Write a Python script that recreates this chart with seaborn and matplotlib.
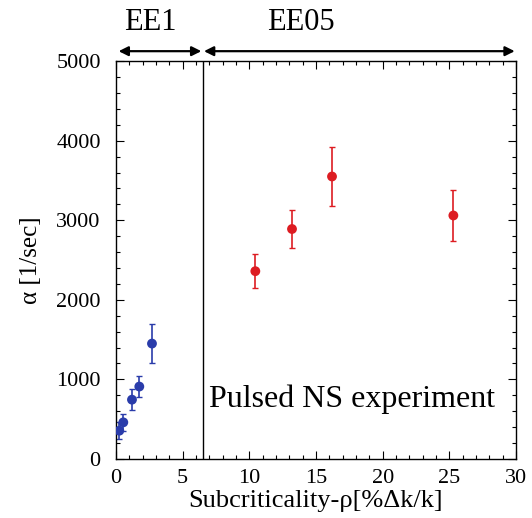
import numpy as np
import pandas as pd
import matplotlib.pyplot as plt
import seaborn as sns
from matplotlib.ticker import MultipleLocator

# data
rho_ee1 = [0.25, 0.55, 1.2, 1.75, 2.7]
alpha_ee1 = [355, 460, 745, 910, 1450]
err_ee1 = [110, 105, 130, 135, 245]

rho_ee05 = [10.45, 13.2, 16.2, 25.3]
alpha_ee05 = [2360, 2890, 3550, 3060]
err_ee05 = [210, 245, 375, 325]

boundary = 6.5
x_max = 30
y_max = 5000

sns.set_theme(style="ticks")
plt.rcParams['font.family'] = ['Liberation Serif', 'DejaVu Serif']
plt.rcParams['text.color'] = 'black'
plt.rcParams['axes.labelcolor'] = 'black'
plt.rcParams['xtick.color'] = 'black'
plt.rcParams['ytick.color'] = 'black'

df1 = pd.DataFrame({'rho': rho_ee1, 'alpha': alpha_ee1, 'err': err_ee1})
df2 = pd.DataFrame({'rho': rho_ee05, 'alpha': alpha_ee05, 'err': err_ee05})

fig = plt.figure(figsize=(5.32, 5.18), dpi=100)
ax = fig.add_axes([0.218, 0.114, 0.752, 0.768])

blue = '#2a3caa'
red = '#dd1c22'

ax.errorbar(df1['rho'], df1['alpha'], yerr=df1['err'], fmt='none', ecolor=blue,
            elinewidth=1.2, capsize=2.5, capthick=1.0)
sns.scatterplot(data=df1, x='rho', y='alpha', color=blue, s=50, edgecolor='none',
                marker='o', ax=ax, zorder=3)
ax.errorbar(df2['rho'], df2['alpha'], yerr=df2['err'], fmt='none', ecolor=red,
            elinewidth=1.2, capsize=2.5, capthick=1.0)
sns.scatterplot(data=df2, x='rho', y='alpha', color=red, s=50, edgecolor='none',
                marker='o', ax=ax, zorder=3)

ax.axvline(boundary, color='black', lw=1.0)

ax.set_xlim(0, x_max)
ax.set_ylim(0, y_max)
ax.xaxis.set_major_locator(MultipleLocator(5))
ax.xaxis.set_minor_locator(MultipleLocator(1))
ax.yaxis.set_major_locator(MultipleLocator(1000))
ax.yaxis.set_minor_locator(MultipleLocator(200))
ax.tick_params(which='both', direction='in', top=True, right=True, labelsize=16,
               color='black', width=0.8)
ax.tick_params(which='major', length=6)
ax.tick_params(which='minor', length=3)
ax.tick_params(axis='y', which='major', pad=11)
ax.tick_params(axis='x', which='major', pad=7)
for s in ax.spines.values():
    s.set_linewidth(1.0)
    s.set_color('black')

ax.set_xlabel('Subcriticality-ρ[%Δk/k]', fontsize=19, labelpad=2)
ax.set_ylabel('α [1/sec]', fontsize=18, labelpad=10)

ax.text(7.0, 650, 'Pulsed NS experiment', fontsize=23, va='baseline', ha='left')

# region arrows above the axes
y_arrow = 5125
arrow_kw = dict(arrowstyle='<|-|>', color='black', lw=1.6, mutation_scale=14,
                shrinkA=0, shrinkB=0)
ax.annotate('', xy=(0.2, y_arrow), xytext=(boundary - 0.1, y_arrow),
            xycoords='data', arrowprops=arrow_kw, annotation_clip=False)
ax.annotate('', xy=(boundary + 0.1, y_arrow), xytext=(x_max - 0.1, y_arrow),
            xycoords='data', arrowprops=arrow_kw, annotation_clip=False)
ax.text(2.6, 5300, 'EE1', fontsize=22, ha='center', va='bottom', clip_on=False)
ax.text(13.9, 5300, 'EE05', fontsize=22, ha='center', va='bottom', clip_on=False)

fig.savefig('out.png', dpi=100)
